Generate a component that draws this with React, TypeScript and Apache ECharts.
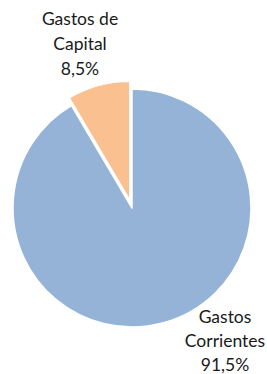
import React, { useEffect, useRef } from "react";
import * as echarts from "echarts";

const categories = ["Gastos Corrientes", "Gastos de Capital"];
const labelLines = [["Gastos", "Corrientes"], ["Gastos de", "Capital"]];
const percentages = [91.5, 8.5];
const colors = ["#95B3D7", "#FAC090"];
const labelPositions = [[225, 340], [80, 43]];

export default function App() {
  const ref = useRef<HTMLDivElement>(null);
  useEffect(() => {
    if (!ref.current) return;
    const chart = echarts.init(ref.current, undefined, { renderer: "svg" });
    const graphics = categories.map((c, i) => ({
      type: "text",
      x: labelPositions[i][0],
      y: labelPositions[i][1],
      silent: true,
      style: {
        text:
          labelLines[i].join("\n") + "\n" + String(percentages[i]).replace(".", ",") + "%",
        fontFamily: "Lato",
        fontSize: 17.5,
        lineHeight: i === 0 ? 24 : 25,
        fill: "#1a1a1a",
        align: "center",
        verticalAlign: "middle",
      },
    }));
    chart.setOption({
      animation: false,
      graphic: graphics,
      series: [
        {
          type: "pie",
          center: [132, 208],
          radius: [0, 119],
          startAngle: 90,
          clockwise: true,
          selectedMode: "single",
          selectedOffset: 8,
          itemStyle: { borderColor: "#ffffff", borderWidth: 1.5 },
          emphasis: { disabled: true },
          labelLine: { show: false },
          label: { show: false },
          data: categories.map((c, i) => ({
            name: c,
            value: percentages[i],
            selected: i === 1,
            itemStyle: { color: colors[i] },
          })),
        },
      ],
    });
    return () => chart.dispose();
  }, []);
  return (
    <div
      ref={ref}
      style={{ position: "absolute", left: 0, top: 0, width: 267, height: 374, background: "#fff" }}
    />
  );
}
